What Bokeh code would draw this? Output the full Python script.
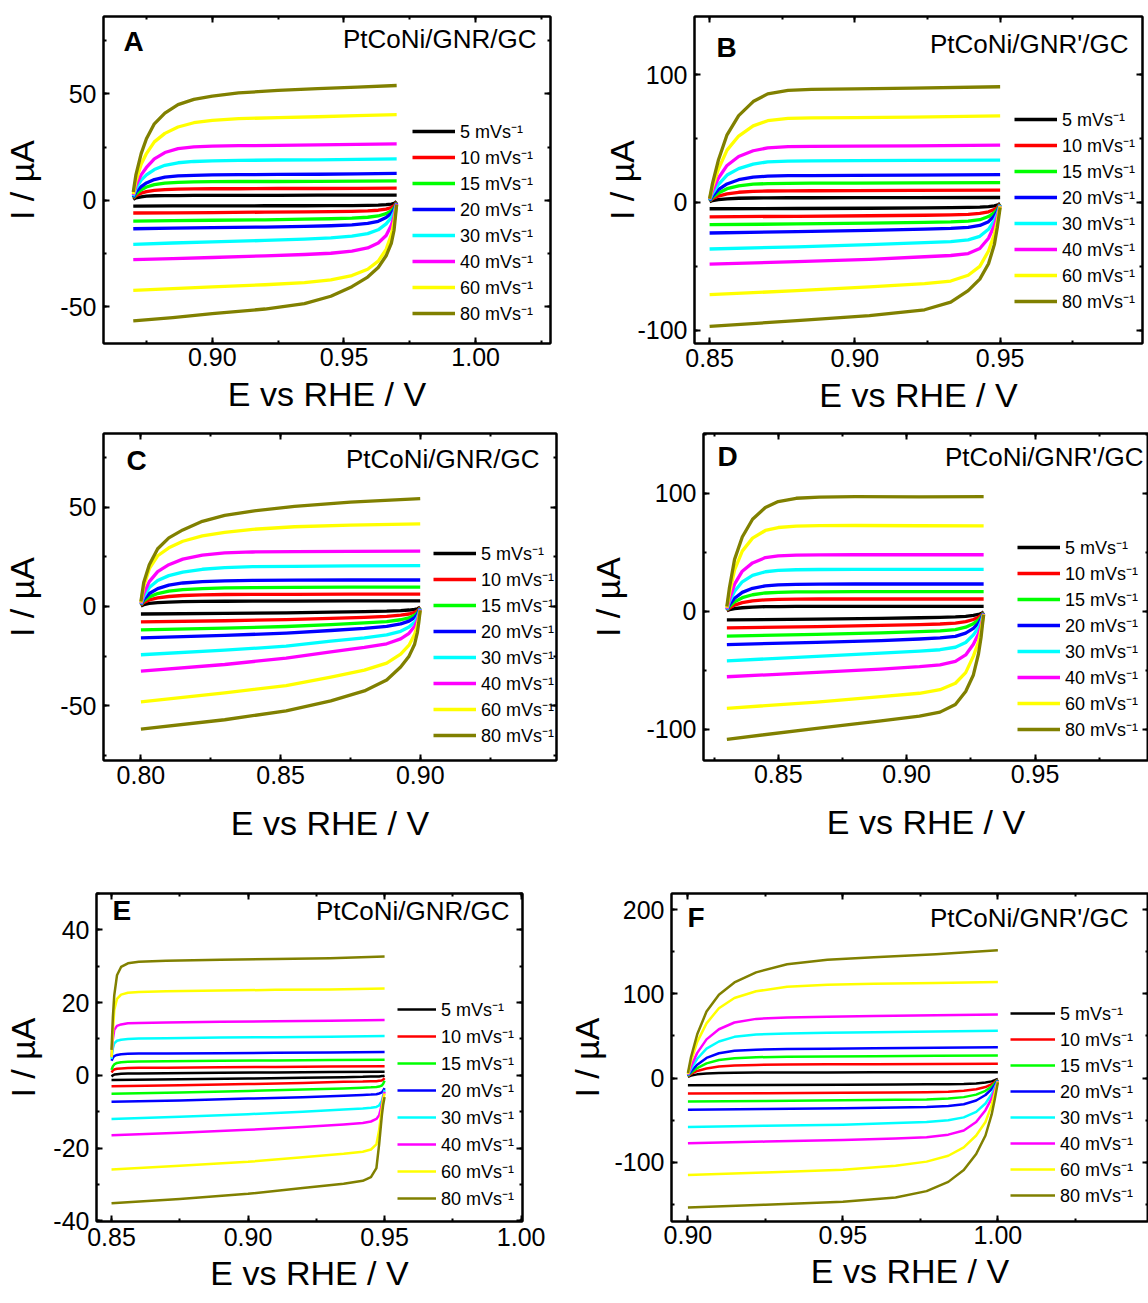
import math
from bokeh.plotting import figure
from bokeh.layouts import column, row
from bokeh.models import (Range1d, LinearAxis, SingleIntervalTicker,
                          PrintfTickFormatter, Label, Legend, LegendItem)
from bokeh.embed import file_html
from bokeh.resources import INLINE

# ---------------- data ----------------
RATES = [5, 10, 15, 20, 30, 40, 60, 80]
LEGEND_LABELS = [f"{r} mVs\u207b\u00b9" for r in RATES]
COLORS = ["#000000", "#FF0000", "#00FF00", "#0000FF",
          "#00FFFF", "#FF00FF", "#FFFF00", "#808000"]
TITLE_GNR = "PtCoNi/GNR/GC"
TITLE_GNRP = "PtCoNi/GNR'/GC"
X_TITLE = "E vs RHE / V"
Y_TITLE = "I / \u00b5A"

# Panel A
A_x_up = [0.870, 0.871, 0.873, 0.875, 0.878, 0.882, 0.887, 0.893, 0.900, 0.910, 0.925, 0.940, 0.955, 0.970]
A_up = [
    [0.5, 1.2, 1.7, 2.0, 2.2, 2.3, 2.3, 2.4, 2.4, 2.4, 2.4, 2.5, 2.5, 2.5],
    [1.0, 2.2, 3.4, 4.1, 4.7, 5.1, 5.3, 5.4, 5.5, 5.5, 5.6, 5.6, 5.7, 5.8],
    [1.2, 3.0, 5.0, 6.3, 7.4, 8.1, 8.5, 8.7, 8.8, 8.9, 8.9, 9.0, 9.1, 9.2],
    [1.5, 4.0, 6.5, 8.2, 9.8, 10.9, 11.5, 11.8, 12.0, 12.1, 12.2, 12.3, 12.5, 12.7],
    [2.0, 5.5, 9.5, 12.0, 14.5, 16.5, 17.7, 18.3, 18.6, 18.8, 19.0, 19.1, 19.3, 19.5],
    [2.5, 7.0, 12.0, 15.5, 19.5, 22.5, 24.3, 25.2, 25.5, 25.7, 25.9, 26.1, 26.3, 26.6],
    [3.0, 9.0, 17.0, 22.0, 27.5, 31.5, 34.5, 36.5, 37.6, 38.4, 38.9, 39.3, 39.8, 40.3],
    [4.0, 12.0, 22.0, 29.0, 36.0, 41.0, 45.0, 47.5, 49.0, 50.5, 51.7, 52.5, 53.2, 54.0],
]
A_x_dn = [0.970, 0.9695, 0.969, 0.968, 0.966, 0.963, 0.959, 0.953, 0.945, 0.935, 0.920, 0.900, 0.885, 0.870]
A_dn = [
    [-0.5, -1.0, -1.4, -1.7, -2.0, -2.2, -2.3, -2.4, -2.4, -2.5, -2.5, -2.6, -2.6, -2.7],
    [-0.8, -1.7, -2.5, -3.3, -4.1, -4.6, -4.9, -5.1, -5.3, -5.4, -5.5, -5.7, -5.8, -5.9],
    [-1.0, -2.3, -3.5, -4.8, -6.2, -7.3, -7.9, -8.3, -8.6, -8.8, -9.1, -9.3, -9.5, -9.7],
    [-1.2, -2.8, -4.3, -6.0, -8.0, -9.8, -10.8, -11.5, -11.9, -12.2, -12.5, -12.8, -13.0, -13.3],
    [-1.5, -3.5, -5.5, -8.0, -11.0, -13.8, -15.6, -16.8, -17.6, -18.2, -18.8, -19.5, -20.0, -20.6],
    [-1.5, -4.5, -7.5, -11.5, -16.5, -20.0, -22.3, -23.8, -24.8, -25.4, -26.0, -26.8, -27.3, -27.8],
    [-2.0, -6.0, -10.0, -16.0, -23.0, -28.5, -32.3, -35.3, -37.3, -38.6, -39.6, -40.6, -41.4, -42.2],
    [-2.0, -8.0, -14.0, -20.0, -26.0, -31.5, -36.0, -40.5, -45.0, -48.5, -51.0, -53.2, -55.0, -56.6],
]

# Panel B
B_x_up = [0.850, 0.851, 0.853, 0.856, 0.860, 0.865, 0.870, 0.877, 0.885, 0.900, 0.920, 0.950]
B_up = [
    [0.5, 1.5, 2.3, 2.9, 3.3, 3.5, 3.6, 3.7, 3.7, 3.8, 3.8, 3.9],
    [1.0, 3.0, 5.0, 6.8, 8.0, 8.7, 9.0, 9.1, 9.2, 9.3, 9.4, 9.6],
    [1.2, 4.0, 7.5, 10.8, 13.0, 14.3, 14.8, 15.0, 15.1, 15.2, 15.3, 15.6],
    [1.5, 5.0, 10.0, 14.5, 17.8, 19.8, 20.6, 21.0, 21.1, 21.2, 21.4, 21.8],
    [2.0, 7.0, 14.0, 21.5, 26.5, 30.0, 31.8, 32.4, 32.6, 32.7, 32.9, 33.2],
    [2.5, 9.0, 19.0, 29.0, 36.0, 40.5, 42.8, 43.7, 44.0, 44.1, 44.3, 44.9],
    [3.0, 12.0, 26.0, 41.0, 52.0, 60.0, 64.0, 65.8, 66.3, 66.5, 66.8, 67.8],
    [3.0, 15.0, 33.0, 53.0, 68.0, 79.0, 85.0, 87.8, 88.6, 89.0, 89.5, 90.6],
]
B_x_dn = [0.950, 0.9495, 0.949, 0.948, 0.946, 0.943, 0.939, 0.933, 0.924, 0.905, 0.880, 0.850]
B_dn = [
    [-0.8, -1.5, -2.1, -2.7, -3.3, -3.7, -3.9, -4.1, -4.3, -4.5, -4.7, -4.9],
    [-1.2, -2.5, -4.0, -5.5, -7.3, -8.6, -9.3, -9.7, -10.0, -10.4, -10.8, -11.2],
    [-1.5, -3.5, -5.5, -8.0, -11.0, -13.5, -14.6, -15.2, -15.6, -16.2, -16.8, -17.4],
    [-2.0, -4.5, -7.0, -10.5, -15.0, -18.0, -19.5, -20.3, -20.8, -21.8, -22.8, -23.9],
    [-2.0, -5.5, -9.0, -14.0, -21.0, -26.5, -29.3, -30.6, -31.5, -33.0, -34.7, -36.4],
    [-2.5, -7.0, -11.0, -18.0, -28.0, -36.0, -40.0, -41.5, -42.5, -44.5, -46.3, -48.3],
    [-3.0, -9.0, -15.0, -25.0, -38.0, -50.0, -57.0, -61.5, -63.5, -66.0, -69.0, -72.2],
    [-4.0, -12.0, -20.0, -33.0, -48.0, -60.0, -69.0, -78.0, -84.0, -88.5, -92.5, -97.0],
]

# Panel C
C_x_up = [0.800, 0.801, 0.803, 0.806, 0.810, 0.815, 0.822, 0.830, 0.840, 0.855, 0.875, 0.900]
C_up = [
    [0.2, 0.9, 1.5, 1.9, 2.2, 2.4, 2.5, 2.6, 2.7, 2.7, 2.8, 2.8],
    [0.5, 2.0, 3.3, 4.3, 5.0, 5.5, 5.8, 6.0, 6.1, 6.1, 6.2, 6.2],
    [0.8, 2.8, 4.8, 6.5, 7.7, 8.5, 9.0, 9.3, 9.5, 9.6, 9.7, 9.7],
    [1.0, 3.5, 6.5, 9.0, 10.7, 11.8, 12.5, 12.9, 13.1, 13.2, 13.3, 13.3],
    [1.2, 5.0, 9.5, 13.0, 15.5, 17.3, 18.7, 19.5, 20.0, 20.2, 20.4, 20.5],
    [1.5, 6.5, 12.5, 17.5, 21.0, 23.8, 25.8, 26.9, 27.4, 27.6, 27.7, 27.8],
    [2.0, 10.0, 19.0, 25.5, 29.5, 32.8, 35.5, 37.3, 38.8, 40.1, 40.9, 41.5],
    [2.5, 12.0, 21.0, 29.0, 34.5, 38.5, 42.8, 45.8, 48.0, 50.3, 52.5, 54.2],
]
C_x_dn = [0.900, 0.8995, 0.899, 0.898, 0.896, 0.893, 0.888, 0.880, 0.868, 0.852, 0.830, 0.800]
C_dn = [
    [-0.3, -0.8, -1.2, -1.5, -1.8, -2.1, -2.4, -2.6, -2.9, -3.2, -3.5, -3.8],
    [-0.5, -1.4, -2.2, -3.0, -3.8, -4.4, -5.0, -5.5, -6.0, -6.6, -7.2, -7.8],
    [-0.8, -2.0, -3.2, -4.4, -5.7, -6.7, -7.6, -8.3, -9.1, -10.1, -10.9, -11.8],
    [-1.0, -2.5, -4.0, -5.6, -7.4, -8.8, -10.0, -11.0, -12.1, -13.4, -14.6, -15.8],
    [-1.2, -3.5, -5.5, -7.8, -10.3, -12.5, -14.3, -15.8, -17.5, -20.0, -22.0, -24.3],
    [-1.5, -4.5, -7.0, -10.0, -13.5, -16.3, -18.8, -20.6, -22.8, -26.0, -29.2, -32.5],
    [-2.0, -6.0, -9.5, -14.0, -19.5, -24.0, -28.5, -32.0, -35.5, -39.8, -43.5, -48.0],
    [-2.0, -8.0, -13.0, -19.0, -25.0, -30.5, -37.0, -42.5, -47.5, -52.5, -57.0, -61.7],
]

# Panel D
D_x_up = [0.830, 0.831, 0.833, 0.836, 0.840, 0.845, 0.850, 0.857, 0.866, 0.880, 0.905, 0.930]
D_up = [
    [0.4, 1.3, 2.3, 3.0, 3.6, 3.9, 4.0, 4.1, 4.1, 4.2, 4.2, 4.2],
    [0.7, 2.8, 5.2, 7.3, 8.8, 9.7, 10.1, 10.3, 10.4, 10.4, 10.4, 10.4],
    [1.0, 4.0, 8.0, 11.5, 14.0, 15.5, 16.1, 16.4, 16.5, 16.6, 16.6, 16.6],
    [1.2, 5.5, 11.0, 16.0, 19.5, 21.5, 22.4, 22.8, 23.0, 23.1, 23.1, 23.1],
    [1.5, 8.0, 17.0, 25.0, 30.5, 33.5, 34.7, 35.2, 35.4, 35.5, 35.5, 35.5],
    [2.0, 10.0, 23.0, 34.0, 41.0, 45.5, 47.0, 47.6, 47.8, 47.9, 47.9, 47.9],
    [3.0, 15.0, 35.0, 51.0, 62.0, 68.5, 71.0, 72.2, 72.6, 72.7, 72.5, 72.4],
    [4.0, 20.0, 44.0, 63.0, 78.0, 88.0, 93.0, 95.8, 96.8, 97.2, 97.0, 97.2],
]
D_x_dn = [0.930, 0.9295, 0.929, 0.928, 0.926, 0.923, 0.919, 0.913, 0.905, 0.890, 0.865, 0.830]
D_dn = [
    [-0.6, -1.3, -2.0, -2.7, -3.5, -4.3, -4.8, -5.2, -5.5, -6.0, -6.6, -7.3],
    [-1.0, -2.2, -3.5, -5.0, -7.0, -8.8, -10.0, -10.8, -11.3, -12.0, -13.0, -14.1],
    [-1.2, -3.0, -5.0, -7.5, -10.5, -13.5, -15.5, -16.6, -17.3, -18.3, -19.6, -21.1],
    [-1.5, -4.0, -6.5, -10.0, -14.5, -18.5, -21.3, -22.6, -23.5, -24.8, -26.3, -28.2],
    [-2.0, -5.5, -9.0, -14.0, -20.0, -26.5, -30.5, -32.6, -33.8, -35.5, -38.3, -42.0],
    [-2.0, -7.0, -12.0, -19.0, -28.0, -37.0, -42.5, -45.5, -47.0, -49.0, -51.8, -55.5],
    [-2.5, -9.0, -16.0, -26.0, -38.0, -52.0, -61.0, -66.5, -69.5, -72.4, -77.0, -82.3],
    [-3.0, -12.0, -22.0, -36.0, -54.0, -68.0, -79.0, -85.5, -88.8, -93.0, -99.3, -108.5],
]

# Panel E
E_x_up = [0.850, 0.8505, 0.851, 0.852, 0.8535, 0.856, 0.860, 0.870, 0.890, 0.910, 0.930, 0.950]
E_up = [
    [-0.3, 0.0, 0.2, 0.3, 0.4, 0.5, 0.5, 0.6, 0.7, 0.8, 0.9, 1.0],
    [0.8, 1.3, 1.6, 1.8, 1.9, 2.0, 2.1, 2.1, 2.2, 2.3, 2.4, 2.5],
    [1.5, 2.5, 3.0, 3.4, 3.6, 3.7, 3.8, 3.9, 4.0, 4.1, 4.2, 4.3],
    [4.0, 4.8, 5.3, 5.6, 5.8, 5.9, 6.0, 6.0, 6.1, 6.2, 6.3, 6.4],
    [4.5, 7.5, 8.8, 9.5, 9.8, 10.0, 10.1, 10.2, 10.4, 10.5, 10.6, 10.8],
    [5.0, 10.0, 12.5, 13.6, 14.0, 14.3, 14.4, 14.5, 14.7, 14.9, 15.0, 15.2],
    [5.0, 12.0, 18.0, 21.0, 22.2, 22.7, 22.9, 23.1, 23.3, 23.5, 23.6, 23.9],
    [7.0, 16.0, 22.0, 27.5, 29.8, 30.8, 31.2, 31.5, 31.8, 32.0, 32.2, 32.7],
]
E_x_dn = [0.950, 0.9495, 0.949, 0.948, 0.947, 0.945, 0.942, 0.935, 0.920, 0.900, 0.875, 0.850]
E_dn = [
    [-0.1, -0.2, -0.2, -0.3, -0.3, -0.3, -0.4, -0.5, -0.7, -0.9, -1.1, -1.3],
    [-0.8, -1.2, -1.4, -1.5, -1.6, -1.6, -1.7, -1.8, -2.1, -2.4, -2.7, -3.0],
    [-1.5, -2.3, -2.8, -3.1, -3.2, -3.3, -3.4, -3.6, -3.9, -4.3, -4.7, -5.1],
    [-3.5, -4.2, -4.7, -5.0, -5.2, -5.3, -5.4, -5.6, -6.0, -6.4, -6.9, -7.3],
    [-4.0, -5.5, -7.0, -8.3, -8.7, -8.9, -9.1, -9.4, -10.0, -10.7, -11.4, -12.0],
    [-4.5, -6.0, -8.0, -11.0, -12.0, -12.7, -13.1, -13.5, -14.2, -15.0, -15.8, -16.5],
    [-5.0, -6.5, -9.0, -15.0, -19.0, -20.4, -21.0, -21.6, -22.5, -23.8, -24.9, -25.9],
    [-6.0, -8.0, -11.0, -19.0, -25.5, -28.0, -29.0, -29.8, -31.0, -32.6, -34.0, -35.2],
]

# Panel F
F_x_up = [0.900, 0.901, 0.903, 0.906, 0.910, 0.915, 0.922, 0.932, 0.945, 0.960, 0.980, 1.000]
F_up = [
    [1.5, 3.0, 4.5, 5.5, 6.1, 6.4, 6.6, 6.7, 6.8, 6.9, 7.0, 7.1],
    [2.0, 5.0, 8.5, 11.5, 13.8, 15.0, 15.7, 16.1, 16.4, 16.6, 16.8, 17.0],
    [2.5, 6.5, 12.0, 17.5, 21.5, 23.7, 24.8, 25.4, 25.8, 26.1, 26.5, 26.9],
    [3.0, 8.0, 16.0, 24.0, 29.5, 32.5, 33.8, 34.5, 35.0, 35.5, 36.1, 36.8],
    [3.5, 11.0, 23.0, 35.0, 43.5, 49.0, 51.8, 53.0, 53.8, 54.5, 55.3, 56.2],
    [4.0, 14.0, 30.0, 46.0, 58.0, 66.0, 70.3, 72.0, 72.8, 73.6, 74.6, 75.6],
    [5.0, 20.0, 43.0, 65.0, 83.0, 95.0, 103.0, 108.5, 110.8, 112.0, 113.0, 114.0],
    [6.0, 25.0, 52.0, 79.0, 99.0, 113.5, 125.5, 135.0, 140.5, 143.5, 147.0, 151.6],
]
F_x_dn = [1.000, 0.999, 0.998, 0.996, 0.993, 0.989, 0.984, 0.977, 0.967, 0.950, 0.925, 0.900]
F_dn = [
    [-1.0, -2.5, -3.8, -5.2, -6.2, -6.8, -7.1, -7.3, -7.5, -7.7, -8.0, -8.3],
    [-1.5, -4.5, -7.0, -10.5, -13.2, -15.0, -16.0, -16.6, -17.0, -17.4, -17.8, -18.2],
    [-2.0, -6.0, -10.0, -15.0, -19.5, -22.5, -24.2, -25.2, -25.7, -26.3, -27.0, -27.7],
    [-2.5, -8.0, -13.0, -20.0, -26.5, -31.0, -33.0, -34.2, -34.8, -35.6, -36.6, -37.6],
    [-3.0, -11.0, -19.0, -30.0, -40.0, -46.5, -50.0, -52.0, -53.3, -55.2, -56.5, -57.8],
    [-3.5, -14.0, -24.0, -38.0, -52.0, -62.0, -67.0, -70.0, -71.5, -73.2, -75.2, -77.2],
    [-4.0, -18.0, -32.0, -52.0, -68.0, -82.0, -92.0, -99.0, -104.0, -108.5, -111.8, -114.8],
    [-5.0, -25.0, -43.0, -68.0, -90.0, -109.0, -123.0, -134.0, -141.5, -146.5, -150.0, -153.5],
]

# ---------------- layout / style ----------------
FONT = "Liberation Sans"

PANELS = [
    dict(letter="A", title=TITLE_GNR, x_up=A_x_up, ups=A_up, x_dn=A_x_dn, dns=A_dn,
         fig=(0, 0, 600, 424), frame=(103, 550, 16, 344), xr=(0.8587, 1.0284), yr=(-67.2, 86.4),
         yint=50, lw=3.3, xso=4, xls=6, yls=16, let_pos=(123, 52), title_pos=(536, 49),
         leg=(412, 43, 132, 313, 2)),
    dict(letter="B", title=TITLE_GNRP, x_up=B_x_up, ups=B_up, x_dn=B_x_dn, dns=B_dn,
         fig=(600, 0, 548, 424), frame=(694, 1142, 16, 343), xr=(0.8448, 0.9990), yr=(-110.4, 145.6),
         yint=100, lw=3.3, xso=5, xls=6, yls=-7, let_pos=(716, 57), title_pos=(1128, 53),
         leg=(1014, 43, 118, 301, 2)),
    dict(letter="C", title=TITLE_GNR, x_up=C_x_up, ups=C_up, x_dn=C_x_dn, dns=C_dn,
         fig=(0, 424, 585, 456), frame=(103, 556, 431, 760), xr=(0.7866, 0.9488), yr=(-77.5, 87.0),
         yint=50, lw=3.3, xso=5, xls=17, yls=16, let_pos=(126, 470), title_pos=(539, 468),
         leg=(433, 43, 553, 734, 2)),
    dict(letter="D", title=TITLE_GNRP, x_up=D_x_up, ups=D_up, x_dn=D_x_dn, dns=D_dn,
         fig=(585, 424, 563, 456), frame=(703, 1148, 433, 761), xr=(0.8209, 0.9942), yr=(-126.5, 150.7),
         yint=100, lw=3.3, xso=4, xls=17, yls=16, let_pos=(717, 467), title_pos=(1143, 467),
         leg=(1017, 43, 548, 730, 2)),
    dict(letter="E", title=TITLE_GNR, x_up=E_x_up, ups=E_up, x_dn=E_x_dn, dns=E_dn,
         fig=(0, 880, 560, 423), frame=(96, 522, 889, 1224), xr=(0.8445, 1.0005), yr=(-40.2, 50.0),
         yint=20, lw=2.5, xso=6, xls=5, yls=8, let_pos=(112, 923), title_pos=(509, 923),
         leg=(397, 39, 1013, 1199, 3)),
    dict(letter="F", title=TITLE_GNRP, x_up=F_x_up, ups=F_up, x_dn=F_x_dn, dns=F_dn,
         fig=(560, 880, 588, 423), frame=(671, 1148, 893, 1221), xr=(0.8947, 1.0486), yr=(-170.0, 219.0),
         yint=100, lw=2.5, xso=4, xls=5, yls=5, let_pos=(687, 927), title_pos=(1128, 927),
         leg=(1010, 45, 1013, 1194, 2)),
]


def make_axis(interval, fmt, show, standoff=0, label=None, label_standoff=0):
    ax = LinearAxis(ticker=SingleIntervalTicker(interval=interval, num_minor_ticks=2),
                    formatter=PrintfTickFormatter(format=fmt))
    ax.axis_line_width = 2
    ax.axis_line_color = "black"
    ax.major_tick_in = 6
    ax.major_tick_out = 0
    ax.minor_tick_in = 3
    ax.minor_tick_out = 0
    ax.major_tick_line_width = 2
    ax.minor_tick_line_width = 2
    ax.major_tick_line_color = "black"
    ax.minor_tick_line_color = "black"
    if show:
        ax.major_label_text_font = FONT
        ax.major_label_text_font_size = "25px"
        ax.major_label_text_color = "black"
        ax.major_label_standoff = standoff
    else:
        ax.major_label_text_font_size = "1px"
        ax.major_label_text_color = None
        ax.major_label_standoff = 0
    if label is not None:
        ax.axis_label = label
        ax.axis_label_text_font = FONT
        ax.axis_label_text_font_size = "34px"
        ax.axis_label_text_font_style = "normal"
        ax.axis_label_text_color = "black"
        ax.axis_label_standoff = label_standoff
    return ax


def add_text(p, L, B, X, Ybase, text, size, style="normal", align="left"):
    # place by the text's baseline (page pixels), using the middle of the text box
    Ymid = Ybase - 0.35 * size
    p.add_layout(Label(x=X - L, y=B - Ymid, x_units="screen", y_units="screen", text=text,
                       text_font=FONT, text_font_size=f"{size}px", text_font_style=style,
                       text_align=align, text_baseline="middle", text_color="black"))


def make_panel(c):
    ox, oy, w, h = c["fig"]
    L, R, T, B = c["frame"]
    p = figure(width=w, height=h, x_range=Range1d(*c["xr"]), y_range=Range1d(*c["yr"]),
               x_axis_type=None, y_axis_type=None, output_backend="svg", toolbar_location=None,
               min_border_left=L - ox, min_border_right=ox + w - R,
               min_border_top=T - oy, min_border_bottom=oy + h - B)
    p.background_fill_color = "white"
    p.border_fill_color = "white"
    p.outline_line_color = "black"
    p.outline_line_width = 2

    p.add_layout(make_axis(0.05, "%.2f", True, c["xso"], X_TITLE, c["xls"]), "below")
    p.add_layout(make_axis(c["yint"], "%d", True, 7, Y_TITLE, c["yls"]), "left")
    p.add_layout(make_axis(0.05, "%.2f", False), "above")
    p.add_layout(make_axis(c["yint"], "%d", False), "right")

    items = []
    for i in range(len(RATES)):
        p.line(c["x_dn"], c["dns"][i], line_color=COLORS[i], line_width=c["lw"], line_join="round")
        r_up = p.line(c["x_up"], c["ups"][i], line_color=COLORS[i], line_width=c["lw"], line_join="round")
        items.append(LegendItem(label=LEGEND_LABELS[i], renderers=[r_up]))

    lx, gw, first, last, sp = c["leg"]
    gh = 24
    height = 8 * gh + 7 * sp
    mid = (first + last) / 2.0
    bottom_page = mid + height / 2.0
    legend = Legend(items=items, location=(lx - L, B - bottom_page), orientation="vertical",
                    glyph_width=gw, glyph_height=gh, label_height=gh, spacing=sp,
                    padding=0, margin=0, label_standoff=5,
                    label_text_font=FONT, label_text_font_size="18px", label_text_color="black",
                    border_line_color=None, background_fill_alpha=0)
    p.add_layout(legend)

    add_text(p, L, B, c["let_pos"][0], c["let_pos"][1], c["letter"], 28, style="bold")
    add_text(p, L, B, c["title_pos"][0], c["title_pos"][1], c["title"], 26, align="right")
    return p


figs = [make_panel(c) for c in PANELS]
layout = column(row(figs[0], figs[1]), row(figs[2], figs[3]), row(figs[4], figs[5]))

open("out.html", "w").write(file_html(layout, INLINE))
